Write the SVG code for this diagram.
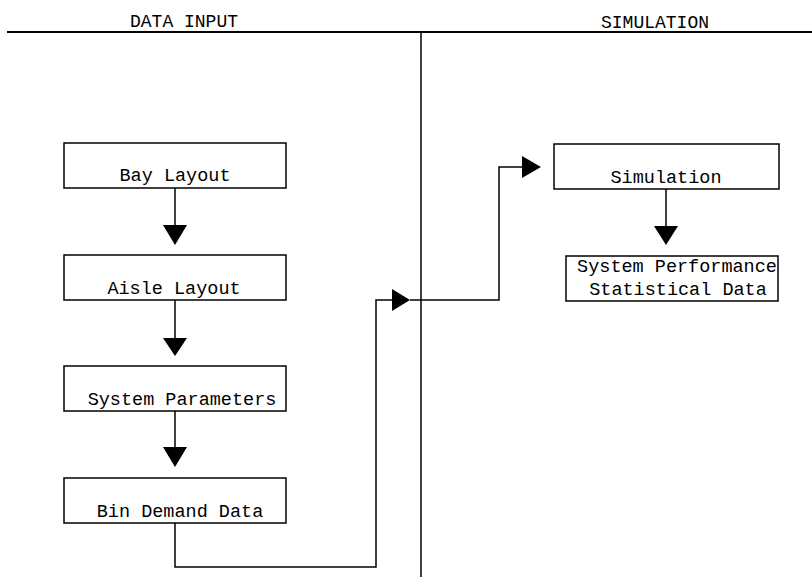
<svg xmlns="http://www.w3.org/2000/svg" width="812" height="577" viewBox="0 0 812 577">
<style>
.box{fill:#fff;stroke:#000;stroke-width:1.5}
.t{font-family:"Liberation Mono","Courier New",monospace;font-size:18.5px;fill:#000;text-anchor:middle}
.h{font-family:"Liberation Mono","Courier New",monospace;font-size:18px;fill:#000;text-anchor:middle}
.ln{fill:none;stroke:#000;stroke-width:1.5}
.ah{fill:#000;stroke:none}
</style>
<rect width="812" height="577" fill="#fff"/>
<g id="frame">
<line x1="7" y1="32" x2="812" y2="32" stroke="#000" stroke-width="2"/>
<line x1="421" y1="32" x2="421" y2="577" stroke="#000" stroke-width="1.5"/>
<text class="h" x="184" y="27">DATA INPUT</text>
<text class="h" x="655" y="28">SIMULATION</text>
</g>
<g id="connectors">
<line class="ln" x1="175" y1="188" x2="175" y2="226"/>
<polygon class="ah" points="163,225 187,225 175,245"/>
<line class="ln" x1="175" y1="300" x2="175" y2="339"/>
<polygon class="ah" points="163,338 187,338 175,356"/>
<line class="ln" x1="175" y1="411" x2="175" y2="448"/>
<polygon class="ah" points="163,447 187,447 175,467"/>
<polyline class="ln" points="175,523 175,567 376,567 376,300 393,300"/>
<polygon class="ah" points="392,289 392,311 410,300"/>
<polyline class="ln" points="410,300 499,300 499,167 523,167"/>
<polygon class="ah" points="522,156 522,178 541,167"/>
<line class="ln" x1="666" y1="189" x2="666" y2="227"/>
<polygon class="ah" points="654,226 678,226 666,245"/>
</g>
<g id="bay-layout">
<rect class="box" x="64" y="143" width="222" height="45"/>
<text class="t" x="175" y="181">Bay Layout</text>
</g>
<g id="aisle-layout">
<rect class="box" x="64" y="255" width="222" height="45"/>
<text class="t" x="174" y="294">Aisle Layout</text>
</g>
<g id="system-parameters">
<rect class="box" x="64" y="366" width="222" height="45"/>
<text class="t" x="182" y="405">System Parameters</text>
</g>
<g id="bin-demand-data">
<rect class="box" x="64" y="478" width="222" height="45"/>
<text class="t" x="180" y="517">Bin Demand Data</text>
</g>
<g id="simulation">
<rect class="box" x="554" y="144" width="225" height="45"/>
<text class="t" x="666" y="183">Simulation</text>
</g>
<g id="system-performance">
<rect class="box" x="566" y="256" width="212" height="45"/>
<text class="t" x="677" y="272">System Performance</text>
<text class="t" x="678" y="295">Statistical Data</text>
</g>
</svg>
